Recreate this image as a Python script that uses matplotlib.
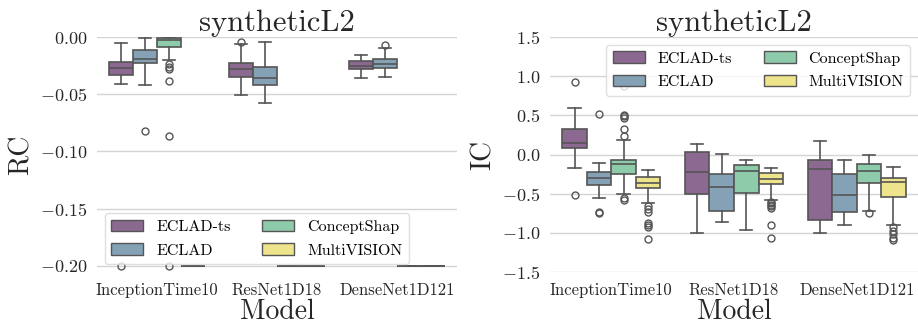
import matplotlib
matplotlib.use("Agg")
import matplotlib.pyplot as plt
from matplotlib.patches import Patch

# fonts: Computer Modern look
plt.rcParams["font.family"] = "serif"
plt.rcParams["font.serif"] = ["cmr10", "DejaVu Serif"]
plt.rcParams["mathtext.fontset"] = "cm"
plt.rcParams["axes.unicode_minus"] = True

models = ["InceptionTime10", "ResNet1D18", "DenseNet1D121"]
methods = ["ECLAD-ts", "ECLAD", "ConceptShap", "MultiVISION"]
colors = ["#8b6990", "#84a1b6", "#8dcbab", "#ede48b"]
line_gray = "#555555"

# box stats per model, per method: (whislo, q1, med, q3, whishi)
rc_boxes = [
    [(-0.0415, -0.033, -0.027, -0.0216, -0.005),
     (-0.042, -0.023, -0.019, -0.0114, -0.001),
     (-0.020, -0.0085, -0.003, -0.0005, 0.0),
     (-0.2, -0.2, -0.2, -0.2, -0.2)],
    [(-0.051, -0.035, -0.028, -0.023, -0.006),
     (-0.058, -0.042, -0.036, -0.026, -0.0047),
     (-0.2, -0.2, -0.2, -0.2, -0.2),
     (-0.2, -0.2, -0.2, -0.2, -0.2)],
    [(-0.0356, -0.028, -0.0254, -0.021, -0.0155),
     (-0.0353, -0.0274, -0.0234, -0.0193, -0.0096),
     (-0.2, -0.2, -0.2, -0.2, -0.2),
     (-0.2, -0.2, -0.2, -0.2, -0.2)],
]
rc_fliers = [
    [[-0.2], [-0.082], [-0.024, -0.026, -0.028, -0.0385, -0.087, -0.2], []],
    [[-0.004], [], [], []],
    [[], [-0.0067], [], []],
]
rc_ticks = [0.0, -0.05, -0.10, -0.15, -0.20]

ic_boxes = [
    [(-0.175, 0.08, 0.145, 0.33, 0.59),
     (-0.55, -0.39, -0.30, -0.226, -0.11),
     (-0.51, -0.25, -0.12, -0.064, 0.19),
     (-0.62, -0.43, -0.36, -0.29, -0.196)],
    [(-1.0, -0.5, -0.22, 0.03, 0.13),
     (-0.86, -0.72, -0.42, -0.25, 0.01),
     (-0.97, -0.49, -0.21, -0.14, -0.07),
     (-0.585, -0.375, -0.31, -0.23, -0.175)],
    [(-1.0, -0.83, -0.19, -0.07, 0.17),
     (-0.905, -0.73, -0.52, -0.25, -0.064),
     (-0.72, -0.36, -0.205, -0.115, 0.0),
     (-0.9, -0.545, -0.355, -0.30, -0.16)],
]
ic_fliers = [
    [[0.93, -0.52], [0.52, -0.73, -0.75],
     [0.87, 0.51, 0.495, 0.47, 0.33, 0.24, -0.55, -0.585],
     [-0.66, -0.69, -0.73, -0.88, -0.9, -0.92, -1.08]],
    [[], [], [], [-0.6, -0.62, -0.64, -0.66, -0.68, -0.9, -1.06]],
    [[], [], [-0.75], [-0.93, -0.98, -1.02, -1.06, -1.09]],
]
ic_ticks = [1.5, 1.0, 0.5, 0.0, -0.5, -1.0, -1.5]


def draw_panel(ax, boxes, fliers, ylabel, ylim, yticks, fmt, legend_loc):
    for i in range(len(models)):
        for j in range(len(methods)):
            lo, q1, med, q3, hi = boxes[i][j]
            stats = [dict(whislo=lo, q1=q1, med=med, q3=q3, whishi=hi,
                          fliers=fliers[i][j])]
            pos = i + (j - 1.5) * 0.2
            ax.bxp(stats, positions=[pos], widths=0.2, patch_artist=True,
                   showfliers=True, manage_ticks=False,
                   boxprops=dict(facecolor=colors[j], edgecolor=line_gray, linewidth=1.2),
                   medianprops=dict(color=line_gray, linewidth=1.2),
                   whiskerprops=dict(color=line_gray, linewidth=1.2),
                   capprops=dict(color=line_gray, linewidth=1.2),
                   flierprops=dict(marker="o", markersize=5, markerfacecolor="none",
                                   markeredgecolor=line_gray, markeredgewidth=1.0))
    ax.set_xlim(-0.5, len(models) - 0.5)
    ax.set_ylim(*ylim)
    ax.set_yticks(yticks)
    ax.set_yticklabels(["$" + format(v, fmt) + "$" for v in yticks])
    ax.set_xticks(range(len(models)))
    ax.set_xticklabels(models)
    ax.tick_params(axis="both", length=0, colors="#262626")
    ax.tick_params(axis="y", pad=7, labelsize=13)
    ax.tick_params(axis="x", pad=8, labelsize=12)
    ax.grid(axis="y", color="#d4d4d4", linewidth=1.0)
    ax.set_axisbelow(True)
    for s in ax.spines.values():
        s.set_visible(False)
    ax.set_title("syntheticL2", fontsize=22, pad=3, color="#262626")
    ax.set_xlabel("Model", fontsize=20, labelpad=0, color="#262626")
    ax.set_ylabel(ylabel, fontsize=20, labelpad=4, color="#262626")
    handles = [Patch(facecolor=c, edgecolor=line_gray, label=m) for c, m in zip(colors, methods)]
    leg = ax.legend(handles=handles, loc=legend_loc, ncol=2, fontsize=11.5, frameon=True,
                    fancybox=True, handlelength=2.0, handletextpad=0.8,
                    columnspacing=2.0, labelspacing=0.6, borderaxespad=0.5)
    leg.get_frame().set_edgecolor("#d8d8d8")


fig = plt.figure(figsize=(9.18, 3.25), dpi=100)
ax1 = fig.add_axes([97 / 918, 53 / 325, 360 / 918, 235 / 325])
ax2 = fig.add_axes([550 / 918, 53 / 325, 368 / 918, 235 / 325])

draw_panel(ax1, rc_boxes, rc_fliers, "RC", (-0.2055, 0.0), rc_ticks, ".2f", "lower left")
draw_panel(ax2, ic_boxes, ic_fliers, "IC", (-1.5, 1.5), ic_ticks, ".1f", "upper right")

fig.savefig("out.png", dpi=100)
